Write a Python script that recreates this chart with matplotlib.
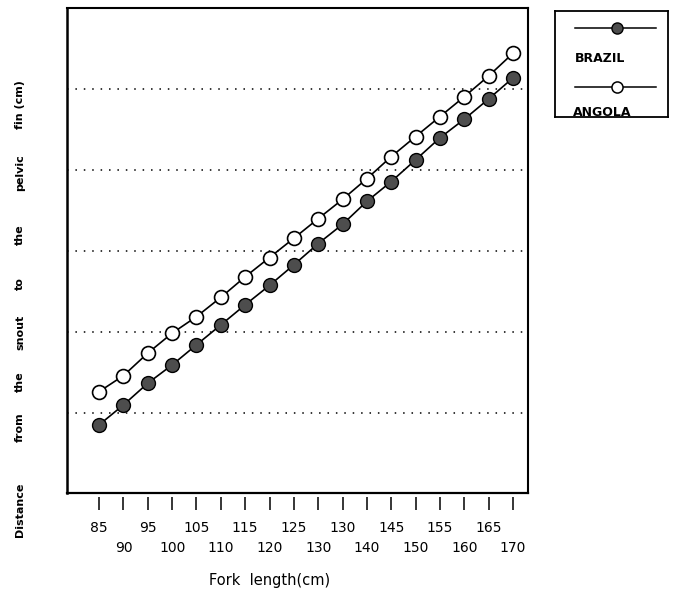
import matplotlib
matplotlib.use("Agg")
import matplotlib.pyplot as plt
from matplotlib.lines import Line2D

# ---- data ----
fork_length = [85, 90, 95, 100, 105, 110, 115, 120, 125, 130,
               135, 140, 145, 150, 155, 160, 165, 170]
brazil = [29.26, 30.49, 31.83, 32.96, 34.20, 35.43, 36.67, 37.87, 39.14, 40.45,
          41.64, 43.06, 44.28, 45.62, 46.98, 48.13, 49.38, 50.68]
angola = [31.31, 32.30, 33.69, 34.92, 35.94, 37.13, 38.40, 39.59, 40.78, 41.99,
          43.18, 44.46, 45.82, 47.06, 48.29, 49.52, 50.80, 52.20]
grid_levels = [30, 35, 40, 45, 50]
top_tick_pos = [85, 95, 105, 115, 125, 135, 145, 155, 165]
top_tick_labels = ["85", "95", "105", "115", "125", "130", "145", "155", "165"]
bottom_tick_pos = [90, 100, 110, 120, 130, 140, 150, 160, 170]
bottom_tick_labels = ["90", "100", "110", "120", "130", "140", "150", "160", "170"]
ylabel_words = ["Distance", "from", "the", "snout", "to", "the", "pelvic", "fin (cm)"]
ylabel_word_y = [510, 427, 382, 332, 284, 235, 173, 105]  # pixel centres from top

W, H = 674, 593
fig = plt.figure(figsize=(W / 100, H / 100), dpi=100)
ax = fig.add_axes([67 / W, (H - 493) / H, (528 - 67) / W, (493 - 8) / H])

tick_font = dict(family=["DejaVu Sans"], size=12.5, stretch="condensed",
                 weight="light")

# dotted reference lines
for g in grid_levels:
    ax.axhline(g, color="black", lw=1.1, ls=(0, (1, 4.5)), zorder=1)

ax.plot(fork_length, angola, color="black", lw=1.2, marker="o", ms=10,
        mfc="white", mec="black", mew=1.2, zorder=3)
ax.plot(fork_length, brazil, color="black", lw=1.2, marker="o", ms=10,
        mfc="#4d4d4d", mec="black", mew=1.0, zorder=3)

ax.set_xlim(78.4, 173.1)
ax.set_ylim(25.05, 55.0)
ax.set_yticks([])

ax.set_xticks(top_tick_pos)
ax.set_xticklabels(top_tick_labels, fontdict=tick_font)
ax.set_xticks(bottom_tick_pos, minor=True)
ax.set_xticklabels(bottom_tick_labels, minor=True, fontdict=tick_font)
ax.tick_params(axis="x", which="major", direction="out", length=9.5, width=1.1, pad=8)
ax.tick_params(axis="x", which="minor", direction="out", length=9.5, width=1.1, pad=22)

for s in ["left", "top", "right"]:
    ax.spines[s].set_linewidth(1.5)
ax.spines["left"].set_linewidth(1.8)
ax.spines["bottom"].set_position(("outward", 3))
ax.spines["bottom"].set_visible(False)
ax.plot([0, 1], [0, 0], transform=ax.transAxes, color="black", lw=1.6,
        clip_on=False, zorder=5)

# axis labels
fig.text(270 / W, 1 - 580 / H, "Fork  length(cm)", ha="center", va="center",
         fontsize=10.5)
for word, yp in zip(ylabel_words, ylabel_word_y):
    fig.text(20 / W, 1 - yp / H, word, rotation=90, ha="center", va="center",
             fontsize=8, fontweight="bold")

# legend box
lx0, lx1, ly0, ly1 = 555, 668, 11, 117
lax = fig.add_axes([lx0 / W, (H - ly1) / H, (lx1 - lx0) / W, (ly1 - ly0) / H])
lax.set_xlim(lx0, lx1)
lax.set_ylim(ly1, ly0)
lax.set_xticks([])
lax.set_yticks([])
for s in lax.spines.values():
    s.set_linewidth(1.3)
lax.add_line(Line2D([575, 656], [28, 28], color="black", lw=1.1))
lax.add_line(Line2D([617], [28], marker="o", ms=8, mfc="#4d4d4d", mec="black", mew=1.0))
lax.text(575, 58, "BRAZIL", ha="left", va="center", fontsize=9, fontweight="bold")
lax.add_line(Line2D([575, 656], [87, 87], color="black", lw=1.1))
lax.add_line(Line2D([617], [87], marker="o", ms=8, mfc="white", mec="black", mew=1.1))
lax.text(573, 112, "ANGOLA", ha="left", va="center", fontsize=9, fontweight="bold")

fig.savefig("out.png", dpi=100)
